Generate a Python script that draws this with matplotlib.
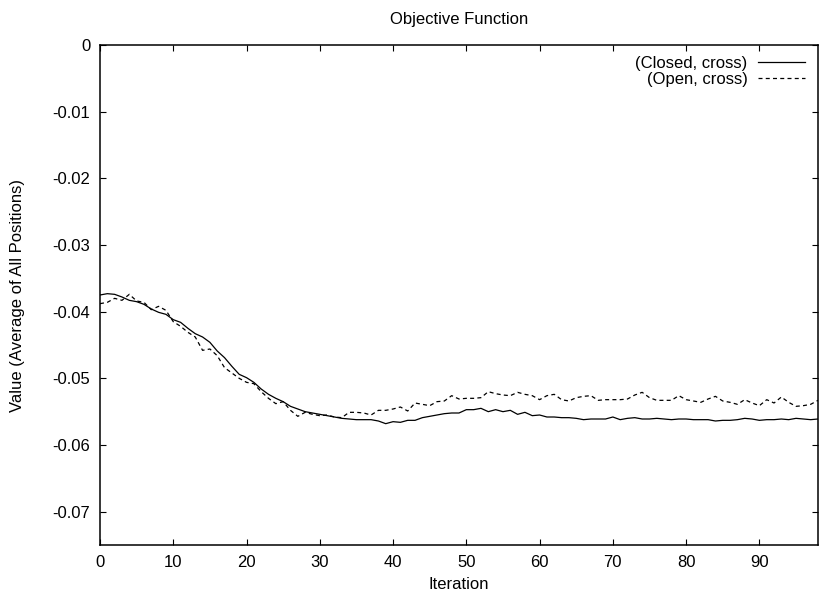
import numpy as np
import matplotlib
matplotlib.use('Agg')
import matplotlib.pyplot as plt
from matplotlib.ticker import FuncFormatter

plt.rcParams.update({
    'font.family': ['Liberation Sans', 'DejaVu Sans'],
    'font.size': 12,
    'axes.unicode_minus': False,
})

iterations = np.arange(99)

closed_cross = [
    -0.0375, -0.0373, -0.0374, -0.0378, -0.0383, -0.0385, -0.0389, -0.0396, -0.0401, -0.0404,
    -0.0412, -0.0416, -0.0425, -0.0433, -0.0438, -0.0446, -0.0459, -0.0469, -0.0482, -0.0494,
    -0.0499, -0.0506, -0.0516, -0.0524, -0.0530, -0.0535, -0.0542, -0.0546, -0.0550, -0.0552,
    -0.0554, -0.0556, -0.0558, -0.0560, -0.0561, -0.0562, -0.0562, -0.0562, -0.0564, -0.0568,
    -0.0565, -0.0566, -0.0563, -0.0563, -0.0559, -0.0557, -0.0555, -0.0553, -0.0552, -0.0552,
    -0.0547, -0.0547, -0.0545, -0.0550, -0.0547, -0.0550, -0.0548, -0.0554, -0.0551, -0.0556,
    -0.0555, -0.0558, -0.0558, -0.0559, -0.0559, -0.0560, -0.0562, -0.0561, -0.0561, -0.0561,
    -0.0558, -0.0562, -0.0560, -0.0559, -0.0561, -0.0561, -0.0560, -0.0561, -0.0562, -0.0561,
    -0.0561, -0.0562, -0.0562, -0.0562, -0.0564, -0.0563, -0.0563, -0.0562, -0.0560, -0.0561,
    -0.0563, -0.0562, -0.0562, -0.0561, -0.0562, -0.0560, -0.0561, -0.0562, -0.0561,
]

open_cross = [
    -0.0388, -0.0386, -0.0380, -0.0383, -0.0374, -0.0384, -0.0386, -0.0397, -0.0392, -0.0398,
    -0.0415, -0.0422, -0.0431, -0.0438, -0.0458, -0.0456, -0.0466, -0.0484, -0.0492, -0.0500,
    -0.0506, -0.0508, -0.0520, -0.0530, -0.0538, -0.0535, -0.0548, -0.0557, -0.0551, -0.0554,
    -0.0556, -0.0555, -0.0558, -0.0559, -0.0551, -0.0551, -0.0552, -0.0555, -0.0548, -0.0548,
    -0.0546, -0.0543, -0.0549, -0.0537, -0.0539, -0.0541, -0.0535, -0.0534, -0.0526, -0.0531,
    -0.0530, -0.0530, -0.0529, -0.0520, -0.0523, -0.0525, -0.0526, -0.0521, -0.0524, -0.0526,
    -0.0532, -0.0526, -0.0524, -0.0532, -0.0534, -0.0529, -0.0527, -0.0526, -0.0533, -0.0532,
    -0.0532, -0.0532, -0.0531, -0.0525, -0.0521, -0.0529, -0.0533, -0.0533, -0.0533, -0.0526,
    -0.0532, -0.0534, -0.0536, -0.0531, -0.0527, -0.0534, -0.0536, -0.0539, -0.0532, -0.0537,
    -0.0541, -0.0532, -0.0537, -0.0528, -0.0536, -0.0542, -0.0541, -0.0539, -0.0533,
]

x_ticks = np.arange(0, 91, 10)
y_ticks = [0, -0.01, -0.02, -0.03, -0.04, -0.05, -0.06, -0.07]

fig = plt.figure(figsize=(8.19, 5.99), dpi=100)
ax = fig.add_axes([100 / 819, 54 / 599, 718 / 819, 500 / 599])

ax.plot(iterations, closed_cross, color='black', linewidth=0.9, label='(Closed, cross)')
ax.plot(iterations, open_cross, color='black', linewidth=0.9, dashes=(3.2, 2.6),
        label='(Open, cross)')

ax.set_xlim(0, 98)
ax.set_ylim(-0.075, 0)
ax.set_xticks(x_ticks)
ax.set_yticks(y_ticks)
ax.yaxis.set_major_formatter(FuncFormatter(lambda v, p: f'{v:g}'))
ax.tick_params(direction='in', length=4.5, width=0.8, top=True, right=True, pad=7,
               labelsize=12)

for sp in ax.spines.values():
    sp.set_linewidth(1.1)

ax.set_title('Objective Function', fontsize=12, pad=15)
ax.set_xlabel('Iteration', fontsize=12, labelpad=5.5)
ax.set_ylabel('Value (Average of All Positions)', fontsize=12, labelpad=20)

ax.legend(loc='upper right', bbox_to_anchor=(0.982, 0.978), frameon=False,
          markerfirst=False, handlelength=2.8, handletextpad=0.66, labelspacing=0.05,
          borderaxespad=0, borderpad=0, fontsize=12)

fig.savefig('out.png', dpi=100)
